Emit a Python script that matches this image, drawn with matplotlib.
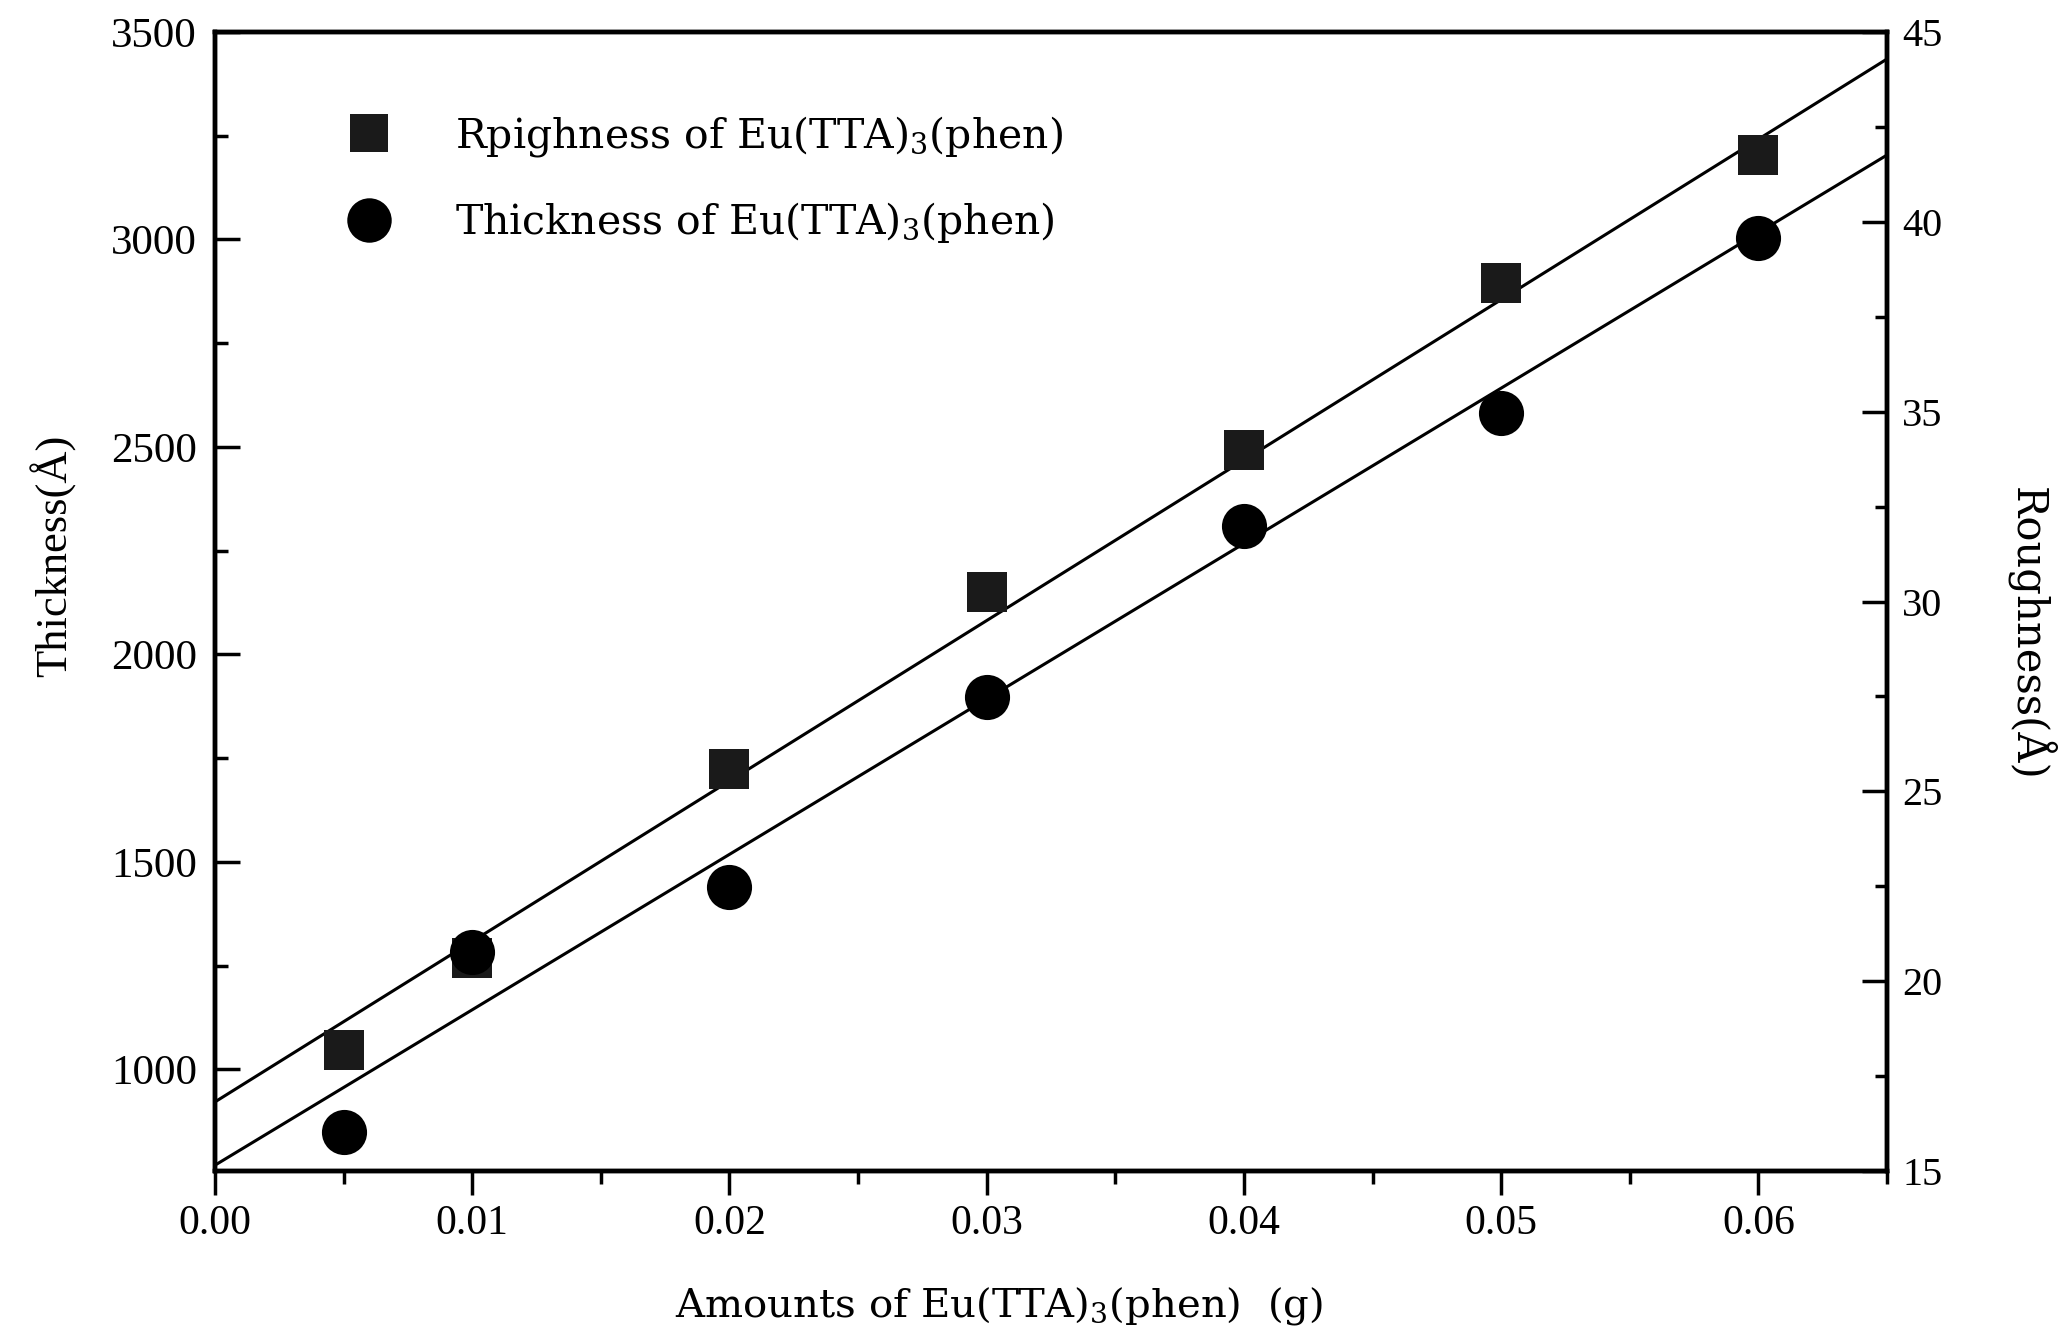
import matplotlib
matplotlib.use("Agg")
import matplotlib.pyplot as plt
from matplotlib.ticker import MultipleLocator, FormatStrFormatter
import numpy as np

# ---- data ----
amount_g = [0.005, 0.01, 0.02, 0.03, 0.04, 0.05, 0.06]
roughness_A = [18.2, 20.6, 25.6, 30.25, 34.0, 38.4, 41.75]
thickness_A = [848, 1282, 1439, 1897, 2309, 2581, 3003]

# linear fits drawn in the figure (intercept, slope)
roughness_fit = [16.82, 422.6]
thickness_fit = [769.0, 37454.0]
fit_x_range = [0.0, 0.065]

label_rough = "Rpighness of Eu(TTA)$_{3}$(phen)"
label_thick = "Thickness of Eu(TTA)$_{3}$(phen)"
xlabel = "Amounts of Eu(TTA)$_{3}$(phen)  (g)"
ylabel_left = "Thickness(Å)"
ylabel_right = "Roughness(Å)"

plt.rcParams['mathtext.fontset'] = 'dejavuserif'

fig = plt.figure(figsize=(20.65, 13.34), dpi=100)
ax = fig.add_axes([215/2065, 1-1171/1334, (1887-215)/2065, (1171-32)/1334])
ax2 = ax.twinx()

lab_font = "DejaVu Serif"

xf = np.array(fit_x_range)
# roughness on right axis
ax2.plot(xf, roughness_fit[0] + roughness_fit[1]*xf, color='black', lw=2.2)
sq, = ax2.plot(amount_g, roughness_A, linestyle='none', marker='s', markersize=29,
               color='#1a1a1a', markeredgewidth=0)
# thickness on left axis
ax.plot(xf, thickness_fit[0] + thickness_fit[1]*xf, color='black', lw=2.2)
ci, = ax.plot(amount_g, thickness_A, linestyle='none', marker='o', markersize=32.5,
              color='black', markeredgewidth=0)

ax.set_zorder(ax2.get_zorder() + 1)
ax.patch.set_visible(False)

ax.set_xlim(0, 0.065)
ax.set_ylim(755, 3500)
ax2.set_ylim(15, 45)

ax.xaxis.set_major_locator(MultipleLocator(0.01))
ax.xaxis.set_minor_locator(MultipleLocator(0.005))
ax.xaxis.set_major_formatter(FormatStrFormatter('%.2f'))
ax.yaxis.set_major_locator(MultipleLocator(500))
ax.yaxis.set_minor_locator(MultipleLocator(250))
ax2.yaxis.set_major_locator(MultipleLocator(5))
ax2.yaxis.set_minor_locator(MultipleLocator(2.5))

ax.tick_params(axis='x', which='major', direction='out', length=17, width=2.5, pad=7, top=False)
ax.tick_params(axis='x', which='minor', direction='out', length=9, width=2.5, top=False)
ax.tick_params(axis='y', which='major', direction='in', length=18, width=2.5, pad=13, right=False)
ax.tick_params(axis='y', which='minor', direction='in', length=9, width=2.5, right=False)
ax2.tick_params(axis='y', which='major', direction='in', length=18, width=2.5, pad=11)
ax2.tick_params(axis='y', which='minor', direction='in', length=9, width=2.5)

for lab in ax.get_xticklabels():
    lab.set_fontfamily("Liberation Serif")
    lab.set_fontsize(30)
for lab in ax.get_yticklabels():
    lab.set_fontfamily("Liberation Serif")
    lab.set_fontsize(31)
for lab in ax2.get_yticklabels():
    lab.set_fontfamily("Liberation Serif")
    lab.set_fontsize(29)

for a in (ax, ax2):
    for s in a.spines.values():
        s.set_linewidth(3.2)

ax.set_xlabel(xlabel, family=lab_font, fontsize=29, va='center')
ax.xaxis.set_label_coords(0.469, -0.1185)
ax.set_ylabel(ylabel_left, family="Liberation Serif", fontsize=32, va='center')
ax.yaxis.set_label_coords(-0.097, 0.54)
ax2.set_ylabel(ylabel_right, family=lab_font, fontsize=30, rotation=-90, va='center')
ax2.yaxis.set_label_coords(1.0856, 0.472)

leg = ax.legend([sq, ci], [label_rough, label_thick], loc='upper left',
                bbox_to_anchor=(0.0796, 0.928), frameon=False,
                prop=dict(family=lab_font, size=29.5), handlelength=1.0,
                handletextpad=1.6, labelspacing=1.0, borderpad=0, borderaxespad=0,
                markerscale=1.0)
leg.legend_handles[0].set_markersize(27)
leg.legend_handles[1].set_markersize(32)

fig.savefig("out.png", dpi=100)
